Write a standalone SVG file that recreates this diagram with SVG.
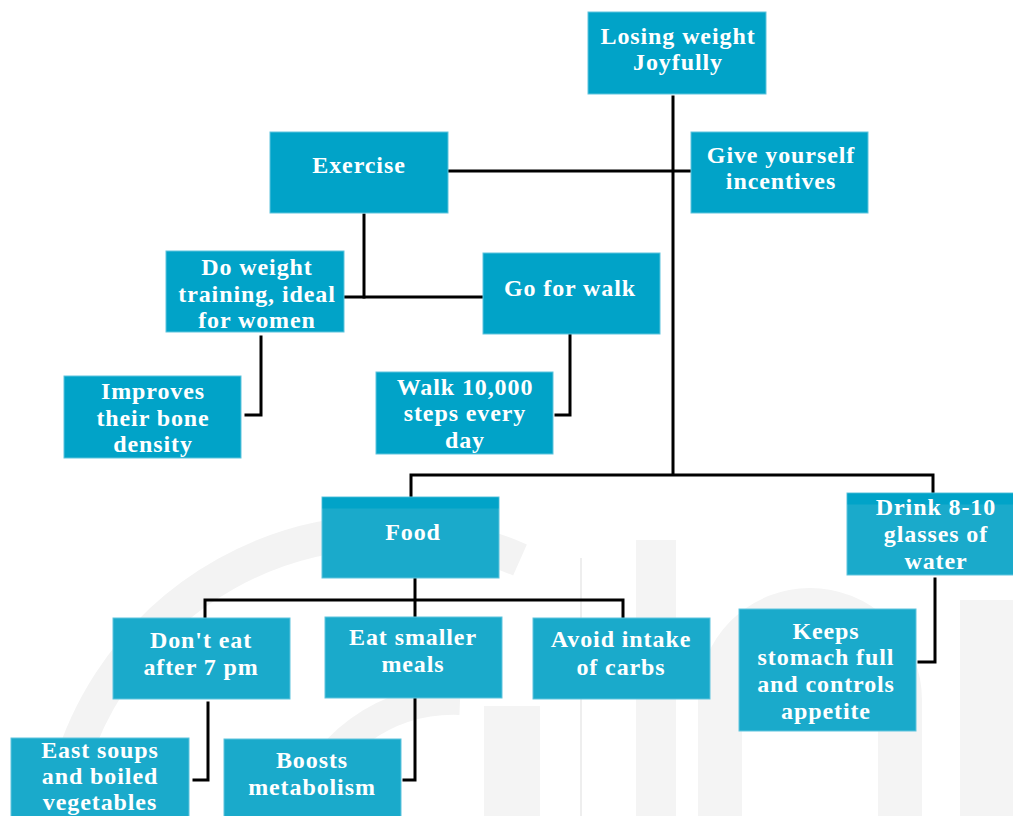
<svg xmlns="http://www.w3.org/2000/svg" width="1013" height="816" viewBox="0 0 1013 816">
<style>
.bx{fill:#01A3C8;stroke:#5FC4DD;stroke-width:1}
.bl{fill:#1AAACB;stroke:#5FC4DD;stroke-width:1}
.band{fill:#01A3C8}
.t{font-family:"Liberation Serif","Times New Roman",serif;font-weight:bold;font-size:24px;letter-spacing:0.9px;fill:#FFFFFF;text-anchor:middle}
.c{fill:none;stroke:#000;stroke-width:3;stroke-linecap:square}
.wm{fill:none;stroke:#F3F3F3}
</style>
<rect width="1013" height="816" fill="#FFFFFF"/>
<g id="watermark">
<path class="wm" d="M60,816 A330,330 0 0 1 520,560" stroke-width="34"/>
<path class="wm" d="M300,816 A160,160 0 0 1 460,700" stroke-width="30"/>
<rect x="636" y="540" width="40" height="276" fill="#F4F4F4"/>
<rect x="484" y="706" width="56" height="110" fill="#F4F4F4"/>
<line x1="581" y1="558" x2="581" y2="816" stroke="#EEEEEE" stroke-width="2"/>
<path d="M720,816 V700 A90,90 0 0 1 900,700 V816" fill="none" stroke="#F4F4F4" stroke-width="44"/>
<rect x="960" y="600" width="53" height="216" fill="#F4F4F4"/>
</g>
<g id="connectors">
<polyline class="c" points="673,97 673,473"/>
<polyline class="c" points="449,171 692,171"/>
<polyline class="c" points="364,215 364,297"/>
<polyline class="c" points="345,297 482,297"/>
<polyline class="c" points="261,337 261,415 246,415"/>
<polyline class="c" points="570,335 570,415 556,415"/>
<polyline class="c" points="411,497 411,475 933,475 933,493"/>
<polyline class="c" points="415,579 415,617"/>
<polyline class="c" points="205,617 205,600 623,600 623,617"/>
<polyline class="c" points="208,703 208,780 194,780"/>
<polyline class="c" points="415,699 415,780 404,780"/>
<polyline class="c" points="935,579 935,662 919,662"/>
</g>
<g id="n-root"><rect class="bx" x="588" y="12" width="178" height="82"/><text class="t" x="678" y="44">Losing weight</text><text class="t" x="678" y="70">Joyfully</text></g>
<g id="n-exercise"><rect class="bx" x="270" y="132" width="178" height="81"/><text class="t" x="359" y="173">Exercise</text></g>
<g id="n-incentives"><rect class="bx" x="691" y="132" width="177" height="81"/><text class="t" x="781" y="163">Give yourself</text><text class="t" x="781" y="189">incentives</text></g>
<g id="n-weight"><rect class="bx" x="166" y="251" width="178" height="81"/><text class="t" x="257" y="275">Do weight</text><text class="t" x="257" y="302">training, ideal</text><text class="t" x="257" y="328">for women</text></g>
<g id="n-walk"><rect class="bx" x="483" y="253" width="177" height="81"/><text class="t" x="570" y="296">Go for walk</text></g>
<g id="n-bone"><rect class="bx" x="64" y="376" width="177" height="82"/><text class="t" x="153" y="399">Improves</text><text class="t" x="153" y="426">their bone</text><text class="t" x="153" y="452">density</text></g>
<g id="n-steps"><rect class="bx" x="376" y="372" width="177" height="82"/><text class="t" x="465" y="395">Walk 10,000</text><text class="t" x="465" y="421">steps every</text><text class="t" x="465" y="448">day</text></g>
<g id="n-food"><rect class="bl" x="322" y="497" width="177" height="81"/><rect class="band" x="322.5" y="497.5" width="176" height="11"/><text class="t" x="413" y="540">Food</text></g>
<g id="n-water"><rect class="bl" x="847" y="493" width="170" height="82"/><rect class="band" x="847.5" y="493.5" width="170" height="11"/><text class="t" x="936" y="515">Drink 8-10</text><text class="t" x="936" y="542">glasses of</text><text class="t" x="936" y="569">water</text></g>
<g id="n-7pm"><rect class="bl" x="113" y="618" width="177" height="81"/><text class="t" x="201" y="648">Don't eat</text><text class="t" x="201" y="675">after 7 pm</text></g>
<g id="n-meals"><rect class="bl" x="325" y="617" width="177" height="81"/><text class="t" x="413" y="645">Eat smaller</text><text class="t" x="413" y="672">meals</text></g>
<g id="n-carbs"><rect class="bl" x="533" y="618" width="177" height="81"/><text class="t" x="621" y="647">Avoid intake</text><text class="t" x="621" y="675">of carbs</text></g>
<g id="n-stomach"><rect class="bl" x="739" y="609" width="177" height="122"/><text class="t" x="826" y="639">Keeps</text><text class="t" x="826" y="665">stomach full</text><text class="t" x="826" y="692">and controls</text><text class="t" x="826" y="719">appetite</text></g>
<g id="n-soups"><rect class="bl" x="11" y="738" width="178" height="82"/><text class="t" x="100" y="758">East soups</text><text class="t" x="100" y="784">and boiled</text><text class="t" x="100" y="810">vegetables</text></g>
<g id="n-metab"><rect class="bl" x="224" y="739" width="177" height="81"/><text class="t" x="312" y="768">Boosts</text><text class="t" x="312" y="795">metabolism</text></g>
</svg>
